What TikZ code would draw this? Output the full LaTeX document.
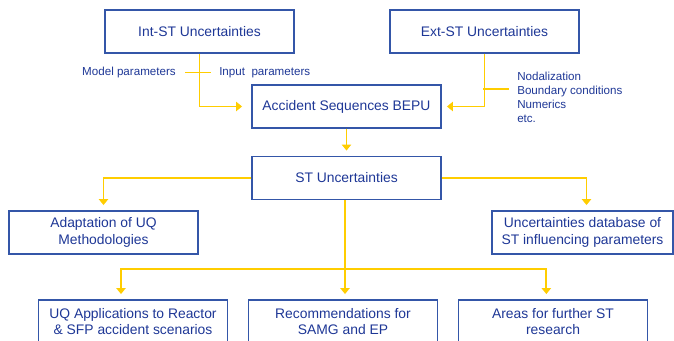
\documentclass[tikz,border=0pt]{standalone}
\usepackage{fontspec}
\setmainfont{Liberation Sans}
\usetikzlibrary{arrows.meta}
\definecolor{boxblue}{RGB}{52,86,168}
\definecolor{txtblue}{RGB}{30,55,150}
\definecolor{flowyellow}{RGB}{255,205,0}
\begin{document}
\begin{tikzpicture}[
  x=0.75pt, y=-0.75pt,
  box/.style={rectangle, draw=boxblue, line width=0.9pt, minimum width=189*0.75pt, minimum height=43*0.75pt,
    align=center, text=txtblue, font=\fontsize{10.4}{12.5}\selectfont, inner sep=1pt},
  lbl/.style={text=txtblue, font=\fontsize{8.7}{10.5}\selectfont, inner sep=0pt},
  link/.style={draw=flowyellow, line width=1.4pt},
  arr/.style={link, -{Triangle[width=7pt,length=4.5pt]}, shorten >=4pt}
]
\useasboundingbox (0,0) rectangle (674,341);

% Boxes
\node[box] (intst) at (199.5,31.5) {Int-ST Uncertainties};
\node[box] (extst) at (484.5,31.5) {Ext-ST Uncertainties};
\node[box] (acc) at (346.5,106.5) {Accident Sequences BEPU};
\node[box] (st) at (346.5,178) {ST Uncertainties};
\node[box] (adapt) at (103.5,232.5) {Adaptation of UQ\\Methodologies};
\node[box, minimum width=181*0.75pt] (udb) at (582.5,232.5) {Uncertainties database of\\ST influencing parameters};
\node[box] (uqapp) at (133,321.5) {UQ Applications to Reactor\\\& SFP accident scenarios};
\node[box] (rec) at (343,321.5) {Recommendations for\\SAMG and EP};
\node[box] (areas) at (553,321.5) {Areas for further ST\\research};

% Labels
\node[lbl, anchor=east] (model) at (176,72.5) {Model parameters};
\node[lbl, anchor=west] (input) at (219,72.5) {Input~ parameters};
\node[lbl, anchor=north west, align=left] (extlist) at (517,71.5) {Nodalization\\Boundary conditions\\Numerics\\etc.};

% Connectors
\draw[arr, shorten >=7pt] (intst.south) |- (acc.west);
\draw[arr] (extst.south) |- (acc.east);
\draw[link, shorten <=7pt, shorten >=6pt] (model.east) -- (input.west);
\coordinate (extstub) at (483,89);
\draw[link, shorten >=6pt] (extstub) -- (extlist.west |- extstub);
\draw[arr] (acc.south) -- (st.north);
\draw[arr] (st.west) -| (adapt.north);
\draw[arr] (st.east) -| ([xshift=3]udb.north);
\coordinate (split) at (345,269);
\draw[arr] (st.south -| split) -- (split |- rec.north);
\draw[arr] (split) -| ([xshift=-9]uqapp.north);
\draw[arr] (split) -| ([xshift=-5]areas.north);

\end{tikzpicture}
\end{document}
